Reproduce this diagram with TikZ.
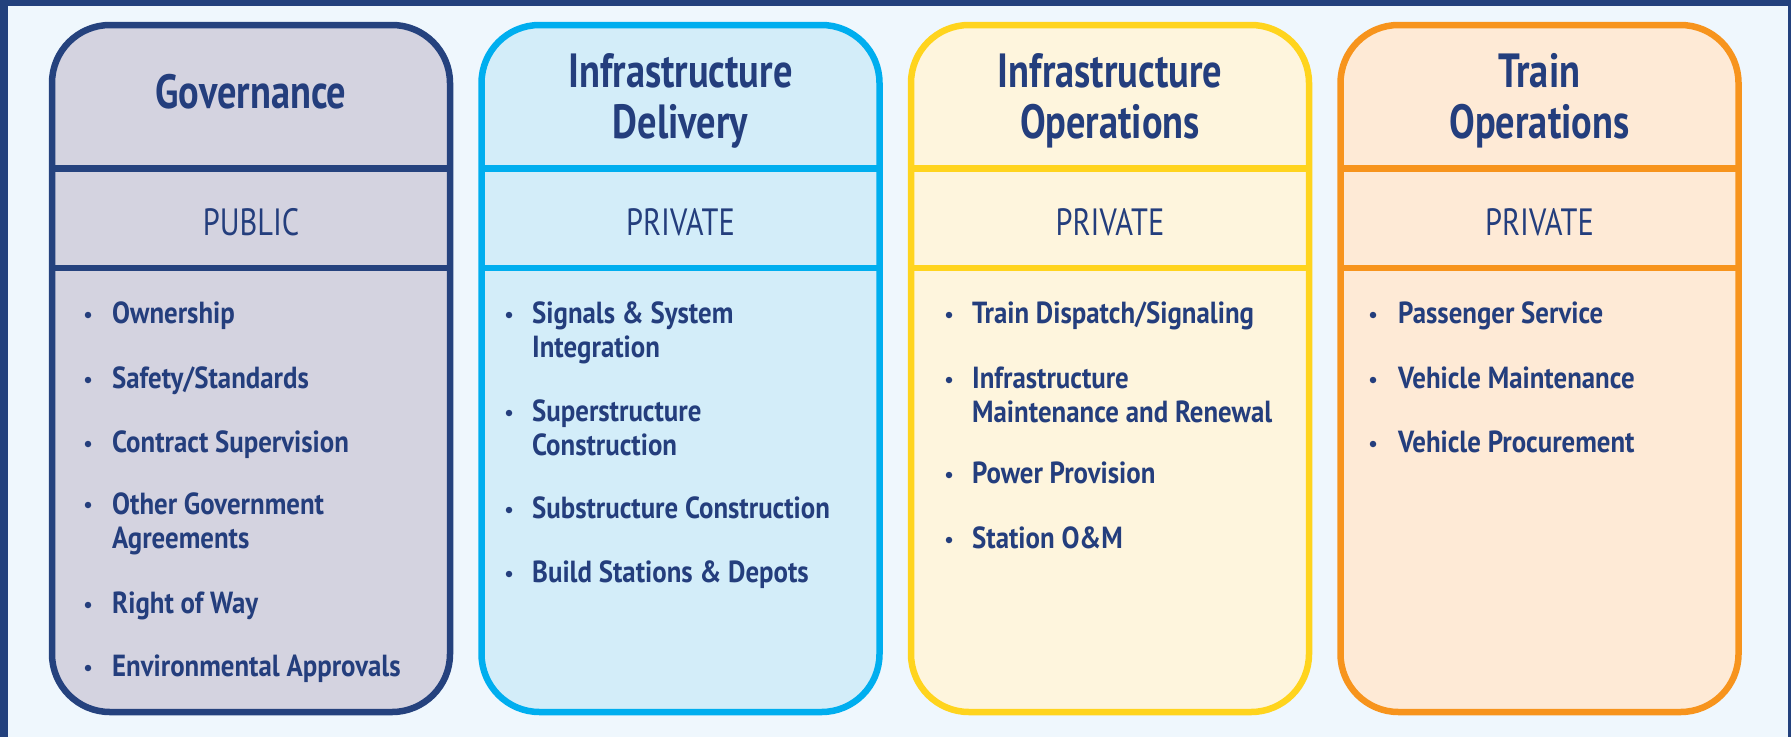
\documentclass[tikz,border=0pt]{standalone}
\usepackage{fontspec}
\setmainfont[FakeStretch=0.8]{PT Sans}
\newfontfamily\itemfont[FakeStretch=0.88]{PT Sans}
\definecolor{frameblue}{RGB}{35,65,125}
\definecolor{bgc}{RGB}{239,247,253}
\definecolor{txt}{RGB}{36,62,125}
\definecolor{govB}{RGB}{37,66,126}
\definecolor{govF}{RGB}{212,211,224}
\definecolor{delB}{RGB}{0,174,239}
\definecolor{delF}{RGB}{211,237,249}
\definecolor{opsB}{RGB}{255,212,30}
\definecolor{opsF}{RGB}{254,245,221}
\definecolor{trnB}{RGB}{247,148,29}
\definecolor{trnF}{RGB}{254,234,214}
\tikzset{
  colbox/.style 2 args={draw=#1, fill=#2, line width=6.5pt, rounded corners=58pt,
    minimum width=398pt, minimum height=687pt, inner sep=0pt, outer sep=0pt},
  divider/.style={line width=6.5pt},
  titletxt/.style={text=txt, font=\fontsize{48}{51}\selectfont\bfseries, align=center, anchor=base, inner sep=0pt},
  sectortxt/.style={text=txt, font=\fontsize{38}{40}\selectfont, anchor=base, inner sep=0pt},
  itemtxt/.style={text=txt, font=\itemfont\fontsize{30.5}{34}\selectfont\bfseries, align=left, anchor=base west, inner sep=0pt},
  dot/.style={circle, fill=txt, inner sep=0pt, minimum size=6.5pt},
}
% #1 name, #2 bullet x, #3 text x, #4 first baseline, #5 baseline of last line, #6 text
\newcommand\bitem[6]{%
  \node[dot] (#1d) at (#2,#4-8) {};
  \node[itemtxt] (#1) at (#3,#5) {#6};
}
\begin{document}
\begin{tikzpicture}[x=1pt,y=-1pt]
\fill[frameblue] (0,0) rectangle (1791,737);
\fill[bgc] (8,6) rectangle (1788,737);
\useasboundingbox (0,0) rectangle (1791,737);

% boxes
\node[colbox={govB}{govF}] (g) at (251,368.5) {};
\node[colbox={delB}{delF}] (d) at (680.5,368.5) {};
\node[colbox={opsB}{opsF}] (o) at (1110,368.5) {};
\node[colbox={trnB}{trnF}] (t) at (1539.5,368.5) {};

% dividers
\foreach \b/\c in {g/govB,d/delB,o/opsB,t/trnB}{
  \draw[divider,\c] (\b.west |- {(0,168.5)}) -- (\b.east |- {(0,168.5)});
  \draw[divider,\c] (\b.west |- {(0,268)}) -- (\b.east |- {(0,268)});
}

% titles (anchor base = last line)
\node[titletxt] (gt) at (251,108) {Governance};
\node[titletxt] (dt) at (680.5,138) {Infrastructure\\Delivery};
\node[titletxt] (ot) at (1110,138) {Infrastructure\\Operations};
\node[titletxt] (tt) at (1539.5,138) {Train\\Operations};

% sector
\node[sectortxt] (gs) at (251,235) {PUBLIC};
\node[sectortxt] (ds) at (680.5,235) {PRIVATE};
\node[sectortxt] (os) at (1110,235) {PRIVATE};
\node[sectortxt] (ts) at (1539.5,235) {PRIVATE};

% items governance
\bitem{g1}{88}{112}{323}{323}{Ownership}
\bitem{g2}{88}{112}{388}{388}{Safety/Standards}
\bitem{g3}{88}{112}{452}{452}{Contract Supervision}
\bitem{g4}{88}{112}{513}{548}{Other Government\\Agreements}
\bitem{g5}{88}{112}{613}{613}{Right of Way}
\bitem{g6}{88}{112}{676}{676}{Environmental Approvals}
% items delivery
\bitem{d1}{509}{532}{323}{357}{Signals \& System\\Integration}
\bitem{d2}{509}{532}{421}{455}{Superstructure\\Construction}
\bitem{d3}{509}{532}{518}{518}{Substructure Construction}
\bitem{d4}{509}{532}{582}{582}{Build Stations \& Depots}
% items operations
\bitem{o1}{949}{972}{323}{323}{Train Dispatch/Signaling}
\bitem{o2}{949}{972}{388}{422}{Infrastructure\\Maintenance and Renewal}
\bitem{o3}{949}{972}{483}{483}{Power Provision}
\bitem{o4}{949}{972}{548}{548}{Station O\&M}
% items train
\bitem{t1}{1373}{1398}{323}{323}{Passenger Service}
\bitem{t2}{1373}{1398}{388}{388}{Vehicle Maintenance}
\bitem{t3}{1373}{1398}{452}{452}{Vehicle Procurement}
\end{tikzpicture}
\end{document}
